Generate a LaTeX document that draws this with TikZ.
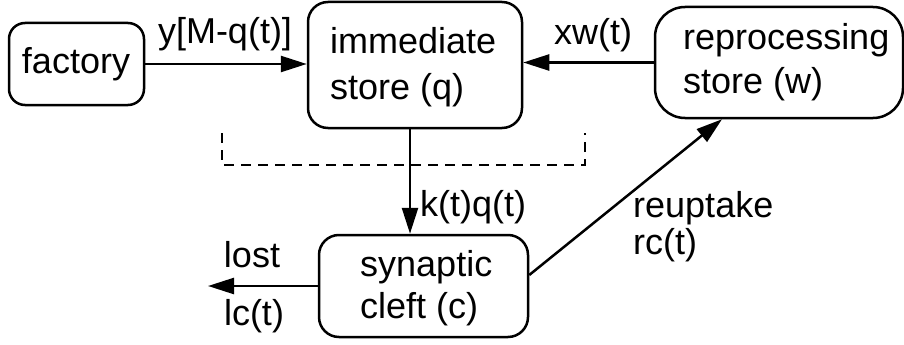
\documentclass[tikz,border=0pt]{standalone}
\usepackage{fontspec}
\setmainfont{Liberation Sans}
\usetikzlibrary{arrows.meta,calc}
\tikzset{
  box/.style={draw, line width=2.5pt, rectangle, inner sep=0pt},
  lbl/.style={inner sep=0pt, font=\fontsize{36}{44}\selectfont},
  arr/.style={line width=2.5pt, -{Triangle[length=26pt,width=16pt]}},
  bracket/.style={line width=1.8pt, dash pattern=on 10pt off 7pt},
}
\begin{document}
\begin{tikzpicture}[x=1pt,y=-1pt]
\useasboundingbox (0,0) rectangle (904,345);
% boxes
\node[box, rounded corners=16pt, minimum width=135pt, minimum height=82pt] (factory) at (76.5,64) {};
\node[box, rounded corners=20pt, minimum width=214pt, minimum height=126pt] (q) at (415,65) {};
\node[box, rounded corners=30pt, minimum width=248pt, minimum height=111pt] (w) at (779,62.5) {};
\node[box, rounded corners=20pt, minimum width=209pt, minimum height=102pt] (c) at (423.5,286) {};
% box texts
\node[lbl] (tfactory) at (76,64) {factory};
\node[lbl, anchor=west, align=left, font=\fontsize{36}{46}\selectfont] (tq) at (330,67) {immediate\\store (q)};
\node[lbl, anchor=west, align=left, font=\fontsize{36}{44}\selectfont] (tw) at (683,62) {reprocessing\\store (w)};
\node[lbl, anchor=west, align=left, font=\fontsize{36}{42}\selectfont] (tc) at (360,288) {synaptic\\cleft (c)};
% connectors
\draw[arr] (factory.east) -- (factory.east -| q.west);
\draw[arr] (w.west) -- (w.west -| q.east);
\draw[arr] ([xshift=-5pt]q.south) -- ([xshift=-5pt]q.south |- c.north);
\coordinate (lostend) at (208,286);
\draw[arr] (c.west) -- (lostend);
\draw[arr] ([yshift=11pt]c.east) -- ([xshift=-57pt]w.south);
% dashed bracket
\coordinate (b1) at (222,133);
\coordinate (b2) at (222,165);
\coordinate (b3) at (585,165);
\coordinate (b4) at (585,133);
\draw[bracket] (b1) -- (b2) -- (b3) -- (b4);
% labels
\node[lbl, anchor=base] (ly) at (225,44) {y[M-q(t)]};
\node[lbl, anchor=base] (lx) at (593,45) {xw(t)};
\node[lbl, anchor=base] (lk) at (473,216) {k(t)q(t)};
\node[lbl, anchor=base] (llost) at (252,267) {lost};
\node[lbl, anchor=base] (llc) at (254,325) {lc(t)};
\node[lbl, anchor=west, align=left, font=\fontsize{36}{37}\selectfont] (lr) at (633,227) {reuptake\\rc(t)};
\end{tikzpicture}
\end{document}
